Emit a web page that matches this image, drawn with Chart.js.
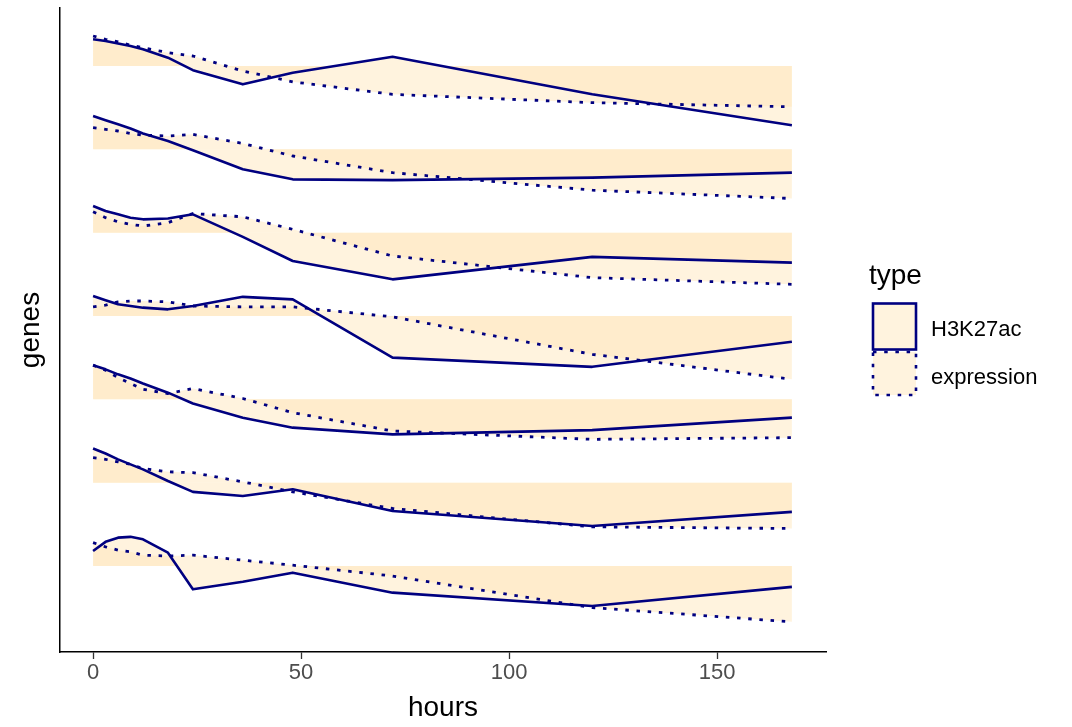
<!DOCTYPE html>
<html><head><meta charset="utf-8">
<script src="https://cdn.jsdelivr.net/npm/chart.js@4/dist/chart.umd.min.js"></script>
<style>
html,body{margin:0;padding:0;background:#fff;}
#wrap{position:relative;width:1072px;height:727px;overflow:hidden;}
#c{position:absolute;left:0;top:0;}
.leg{position:absolute;font-family:"Liberation Sans",Arial,sans-serif;color:#000;white-space:nowrap;line-height:1;}
</style></head><body>
<div id="wrap">
<canvas id="c" width="1072" height="727"></canvas>
<div class="leg" style="left:869px;top:261px;font-size:28px;">type</div>
<svg class="leg" style="left:868px;top:298px" width="56" height="104">
  <rect x="5" y="5.5" width="43" height="46" fill="#fff3de" stroke="#000080" stroke-width="2.6"/>
  <rect x="5" y="54" width="43" height="43" fill="#fff3de" stroke="#000080" stroke-width="2.6" stroke-dasharray="3.5 7.7"/>
</svg>
<div class="leg" style="left:931px;top:318px;font-size:22px;">H3K27ac</div>
<div class="leg" style="left:931px;top:366px;font-size:22px;">expression</div>
</div>
<script>
// ---- data ----
const hours = [0, 3, 6, 9, 12, 18, 24, 36, 48, 72, 120, 168];
const genes = ['gene1', 'gene2', 'gene3', 'gene4', 'gene5', 'gene6', 'gene7'];
const geneOffsets = [6, 5, 4, 3, 2, 1, 0];
const xTicks = [0, 50, 100, 150];
const seriesTypes = ['H3K27ac', 'expression'];

// scaled H3K27ac signal per gene (rows follow genes)
const h3k27ac = [
  [0.32, 0.30, 0.27, 0.24, 0.20, 0.10, -0.05, -0.22, -0.08, 0.11, -0.34, -0.71],
  [0.40, 0.35, 0.30, 0.25, 0.19, 0.10, -0.01, -0.24, -0.36, -0.37, -0.34, -0.28],
  [0.32, 0.26, 0.22, 0.18, 0.16, 0.17, 0.22, -0.05, -0.34, -0.56, -0.29, -0.36],
  [0.24, 0.19, 0.14, 0.12, 0.10, 0.08, 0.12, 0.23, 0.20, -0.50, -0.61, -0.31],
  [0.41, 0.36, 0.30, 0.25, 0.19, 0.08, -0.05, -0.22, -0.34, -0.42, -0.37, -0.22],
  [0.41, 0.35, 0.28, 0.22, 0.16, 0.02, -0.11, -0.16, -0.08, -0.34, -0.52, -0.35],
  [0.18, 0.29, 0.34, 0.35, 0.32, 0.16, -0.28, -0.19, -0.08, -0.32, -0.48, -0.25]
];
// scaled expression per gene
const expression = [
  [0.36, 0.32, 0.29, 0.25, 0.22, 0.16, 0.12, -0.06, -0.19, -0.34, -0.44, -0.49],
  [0.26, 0.24, 0.22, 0.19, 0.17, 0.16, 0.18, 0.07, -0.08, -0.28, -0.49, -0.59],
  [0.25, 0.18, 0.13, 0.10, 0.08, 0.12, 0.23, 0.19, 0.04, -0.28, -0.54, -0.62],
  [0.11, 0.13, 0.17, 0.18, 0.18, 0.17, 0.12, 0.11, 0.11, -0.01, -0.46, -0.76],
  [0.41, 0.35, 0.26, 0.19, 0.12, 0.07, 0.13, 0.01, -0.16, -0.38, -0.48, -0.46],
  [0.30, 0.28, 0.25, 0.22, 0.17, 0.13, 0.12, 0.01, -0.11, -0.31, -0.53, -0.55],
  [0.28, 0.23, 0.19, 0.17, 0.13, 0.12, 0.13, 0.07, 0.01, -0.12, -0.50, -0.67]
];

// ---- styling ----
const LINE = '#000080';
const FILL = 'rgba(255, 228, 181, 0.45)';
const FONT = '"Liberation Sans", Arial, sans-serif';

const datasets = [];
genes.forEach((g, i) => {
  [h3k27ac, expression].forEach((vals, k) => {
    datasets.push({
      label: g + ' ' + seriesTypes[k],
      data: hours.map((h, j) => ({x: h, y: geneOffsets[i] + vals[i][j]})),
      borderColor: LINE,
      backgroundColor: FILL,
      borderWidth: k === 0 ? 2.6 : 2.8,
      borderDash: k === 0 ? [] : [3.5, 7.7],
      borderCapStyle: 'butt',
      borderJoinStyle: 'round',
      fill: {value: geneOffsets[i]},
      pointRadius: 0,
      tension: 0
    });
  });
});

new Chart(document.getElementById('c'), {
  type: 'line',
  data: {datasets},
  options: {
    responsive: false,
    animation: false,
    devicePixelRatio: 1,
    layout: {padding: {left: 0, top: 8, right: 246, bottom: 0}},
    plugins: {
      legend: {display: false},
      tooltip: {enabled: false},
      filler: {drawTime: 'beforeDatasetsDraw'}
    },
    scales: {
      x: {
        type: 'linear',
        min: -7.95,
        max: 176.2,
        afterBuildTicks: s => { s.ticks = xTicks.map(v => ({value: v})); },
        afterFit: s => { s.height = 75; },
        grid: {display: true, drawOnChartArea: false, drawTicks: true, tickLength: 7, tickColor: '#333333', tickWidth: 1.3},
        border: {display: true, color: '#000000', width: 1.5},
        ticks: {color: '#4D4D4D', font: {family: FONT, size: 22}, padding: 1, maxRotation: 0},
        title: {display: true, text: 'hours', color: '#000', font: {family: FONT, size: 28}, padding: {top: 0, bottom: 2}}
      },
      y: {
        type: 'linear',
        min: -1.032,
        max: 6.696,
        afterFit: s => { s.width = 60; },
        grid: {display: false},
        border: {display: true, color: '#000000', width: 1.5},
        ticks: {display: false},
        title: {display: true, text: 'genes', color: '#000', font: {family: FONT, size: 28}, padding: {top: 14, bottom: 0}}
      }
    }
  }
});
</script>
</body></html>
